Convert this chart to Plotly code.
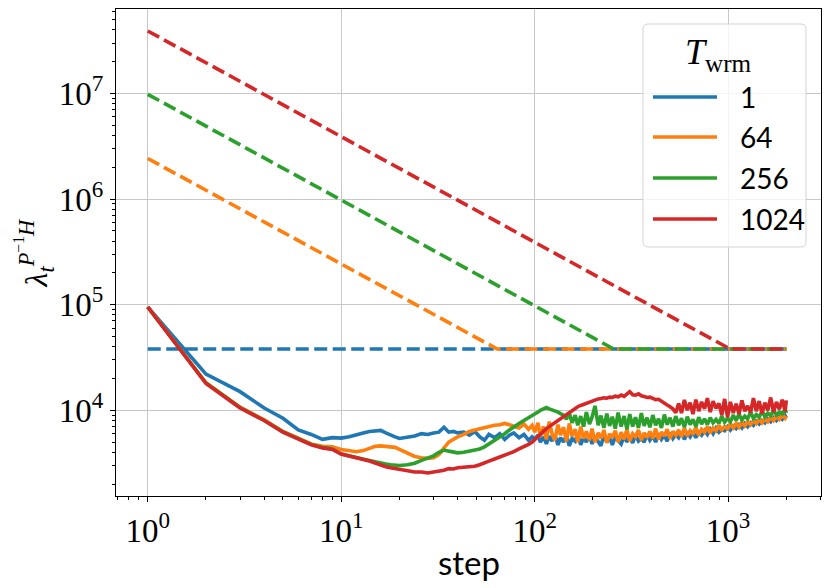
import plotly.graph_objects as go

# ---------------- data ----------------
steps = [1, 2, 3, 4, 5, 6, 7, 8, 9, 10,
         11, 12, 13, 14, 15, 16, 17, 18, 19, 20,
         22, 24, 26, 28, 30, 32, 34, 36, 38, 40,
         43, 46, 49, 52, 55, 58, 62, 66, 70, 74, 78, 83, 88, 93, 97,
         100, 104, 107, 111, 115, 119, 123, 127, 132, 136,
         141, 146, 151, 156, 162, 167, 173, 179, 185, 192,
         198, 205, 213, 220, 228, 236, 244, 252, 261, 270,
         280, 290, 300, 310, 321, 332, 344, 356, 368, 381,
         394, 408, 422, 437, 452, 468, 484, 501, 518, 536,
         555, 574, 594, 615, 636, 658, 681, 705, 729, 755,
         781, 808, 836, 866, 896, 927, 959, 993, 1027, 1063,
         1100, 1138, 1178, 1219, 1262, 1306, 1351, 1398, 1447, 1497,
         1549, 1603, 1659, 1717, 1777, 1839, 1903, 1969, 2000]

# lambda values in thousands
lam_T1_k = [95, 22, 15, 10.5, 8.4, 6.5, 5.9, 5.3, 5.5, 5.45,
            5.6, 5.9, 6.1, 6.3, 6.4, 6.45, 6.1, 5.8, 5.6, 5.4,
            5.6, 5.7, 6.0, 5.9, 6.1, 6.2, 6.9, 6.2, 6.3, 6.1,
            6.2, 5.8, 6.3, 5.6, 5.2, 5.9, 5.5, 6.0, 5.3, 5.8, 6.1, 5.5, 5.9, 5.2, 5.6,
            5.3, 5.8, 5.0, 5.6, 4.8, 5.7, 5.1, 5.9, 4.7, 5.5,
            5.0, 5.8, 4.6, 5.4, 5.1, 6.0, 4.7, 5.5, 5.0, 5.7,
            4.8, 5.6, 5.1, 4.6, 5.8, 5.0, 5.5, 4.7, 5.6, 5.2,
            4.8, 5.7, 5.0, 5.6, 4.9, 5.8, 5.1, 5.4, 5.0, 5.9,
            5.2, 5.7, 5.0, 6.0, 5.3, 5.8, 5.1, 6.1, 5.4, 5.9,
            5.5, 6.2, 5.3, 6.0, 5.6, 6.3, 5.5, 6.1, 5.8, 6.4,
            5.9, 6.6, 6.0, 6.8, 6.2, 6.6, 6.4, 7.0, 6.5, 7.1,
            6.7, 7.3, 6.8, 7.5, 7.0, 7.6, 7.2, 7.9, 7.4, 8.0,
            7.6, 8.3, 7.8, 8.5, 8.0, 8.7, 8.2, 8.9, 8.5]

lam_T64_k = [95, 18.2, 10.7, 8.1, 6.3, 5.4, 4.8, 4.55, 4.5, 4.25,
             4.15, 4.05, 4.15, 4.35, 4.55, 4.6, 4.55, 4.5, 4.45, 4.25,
             3.9, 3.65, 3.55, 3.5, 3.55, 3.8, 4.4, 5.0, 5.3, 5.6,
             5.9, 6.3, 6.5, 6.7, 6.8, 7.0, 7.2, 7.3, 7.5, 7.3, 7.1, 6.8, 7.4, 6.6, 7.2,
             6.2, 7.6, 5.6, 7.0, 5.3, 7.8, 6.0, 5.2, 7.3, 5.8,
             6.9, 5.1, 7.5, 5.7, 6.6, 5.0, 7.0, 5.4, 6.3, 5.2,
             6.7, 5.0, 6.1, 5.4, 6.5, 4.9, 6.0, 5.5, 6.4, 5.0,
             6.2, 5.3, 6.6, 5.1, 6.0, 5.6, 6.5, 5.2, 6.1, 5.5,
             6.3, 5.4, 6.7, 5.3, 6.2, 5.7, 6.6, 5.4, 6.3, 5.8,
             6.5, 5.6, 6.8, 5.7, 6.4, 5.9, 6.9, 5.8, 6.6, 6.2,
             7.0, 6.1, 6.8, 6.4, 7.2, 6.5, 7.0, 6.7, 7.4, 6.8,
             7.5, 6.9, 7.7, 7.1, 7.8, 7.3, 8.0, 7.5, 8.2, 7.6,
             8.3, 7.8, 8.6, 8.0, 8.8, 8.2, 9.0, 8.4, 8.8]

lam_T256_k = [95, 18.1, 10.6, 8.0, 6.25, 5.35, 4.75, 4.45, 4.3, 3.85,
              3.68, 3.55, 3.42, 3.35, 3.25, 3.15, 3.1, 3.05, 3.03, 3.0,
              3.05, 3.15, 3.35, 3.5, 3.7, 4.0, 4.2, 4.1, 4.0, 3.95,
              4.0, 4.1, 4.2, 4.3, 4.5, 4.8, 5.1, 5.6, 6.0, 6.5, 7.0, 7.5, 8.0, 8.5, 8.9,
              9.0, 9.6, 10.0, 10.4, 10.6, 10.3, 10.1, 10.0, 9.6, 9.3,
              9.0, 8.2, 9.4, 7.6, 9.0, 7.2, 8.8, 7.0, 9.6, 7.4,
              8.6, 11.0, 7.2, 8.9, 6.8, 9.3, 7.1, 8.7, 6.7, 9.5,
              7.0, 8.8, 6.6, 9.2, 7.0, 8.6, 6.8, 9.4, 7.1, 8.5,
              6.9, 9.0, 7.2, 8.3, 6.8, 9.1, 7.3, 8.5, 7.0, 8.8,
              7.2, 8.4, 6.9, 8.7, 7.3, 8.2, 7.0, 8.6, 7.4, 8.3,
              7.3, 8.5, 7.6, 8.2, 7.5, 8.8, 7.7, 8.4, 7.8, 9.0,
              8.0, 9.2, 8.1, 8.8, 8.3, 9.6, 8.4, 9.1, 8.6, 9.8,
              8.7, 9.4, 8.9, 10.0, 9.0, 9.6, 9.2, 10.2, 9.4]

lam_T1024_k = [95, 17.9, 10.5, 8.0, 6.2, 5.3, 4.7, 4.4, 4.25, 3.85,
               3.66, 3.55, 3.41, 3.31, 3.16, 3.0, 2.92, 2.85, 2.8, 2.75,
               2.65, 2.6, 2.6, 2.55, 2.6, 2.65, 2.7, 2.8, 2.78, 2.85,
               2.9, 2.9, 2.95, 3.05, 3.15, 3.3, 3.45, 3.6, 3.75, 3.9, 4.05, 4.3, 4.5, 4.75, 5.0,
               5.3, 5.6, 5.9, 6.3, 6.7, 7.0, 7.4, 7.7, 8.1, 8.4,
               8.8, 9.2, 9.6, 10.0, 10.4, 10.8, 11.1, 11.4, 11.7, 12.0,
               12.3, 12.5, 12.8, 12.9, 13.1, 13.0, 13.3, 13.2, 13.6, 13.4,
               13.9, 13.5, 14.2, 15.0, 14.0, 13.9, 14.3, 13.7, 13.5, 13.2,
               13.3, 12.8, 12.6, 12.7, 12.1, 11.8, 11.2, 10.8, 10.3, 9.5,
               11.6, 9.4, 12.5, 10.0, 11.8, 9.2, 12.6, 9.8, 12.0, 10.3,
               13.0, 9.6, 12.2, 10.4, 11.6, 9.0, 12.8, 8.6, 12.0, 9.4,
               11.5, 9.2, 12.4, 9.8, 11.0, 9.5, 13.0, 9.8, 12.2, 9.3,
               11.8, 10.0, 13.2, 9.6, 12.0, 10.2, 12.6, 9.8, 12.4]

warmup_labels = ["1", "64", "256", "1024"]
warmup_steps = [1, 64, 256, 1024]
dash_start_k = [38, 2420, 9800, 39000]   # dashed bound at step 1 (thousands)
dash_floor_k = 38                         # dashed bound after warm-up (thousands)
colors = ["#1f77b4", "#ff7f0e", "#2ca02c", "#d62728"]

x_tick_vals = [1, 10, 100, 1000]
x_tick_text = ["10<sup>0</sup>", "10<sup>1</sup>", "10<sup>2</sup>", "10<sup>3</sup>"]
y_tick_vals = [1e4, 1e5, 1e6, 1e7]
y_tick_text = ["10<sup>4</sup>", "10<sup>5</sup>", "10<sup>6</sup>", "10<sup>7</sup>"]

series = [lam_T1_k, lam_T64_k, lam_T256_k, lam_T1024_k]
for s in series:
    assert len(s) == len(steps), (len(s), len(steps))

# ---------------- figure ----------------
fig = go.Figure()
last_step = steps[-1]
for vals, color, T, start in zip(series, colors, warmup_steps, dash_start_k):
    fig.add_trace(go.Scatter(x=steps, y=[v * 1e3 for v in vals], mode="lines",
                             line=dict(color=color, width=3.6), showlegend=False,
                             hoverinfo="skip"))
    fig.add_trace(go.Scatter(x=[1, T, last_step],
                             y=[start * 1e3, dash_floor_k * 1e3, dash_floor_k * 1e3],
                             mode="lines",
                             line=dict(color=color, width=3.6, dash="13px,5.5px"),
                             showlegend=False, hoverinfo="skip"))

serif = "Liberation Serif"
sans = "Lato"
axis_common = dict(
    type="log", showline=True, mirror=True, linecolor="black", linewidth=1.2,
    ticks="outside", ticklen=5, tickwidth=1, tickcolor="black",
    showgrid=True, gridcolor="#c8c8c8", gridwidth=1, zeroline=False,
    tickfont=dict(family=serif, size=33, color="black"),
    minor=dict(ticks="outside", ticklen=3, tickwidth=0.8, tickcolor="black",
               dtick="D1", showgrid=False),
)
fig.update_xaxes(range=[-0.164, 3.480], tickmode="array", tickvals=x_tick_vals,
                 ticktext=x_tick_text, **axis_common)
fig.update_yaxes(range=[3.188, 7.799], tickmode="array", tickvals=y_tick_vals,
                 ticktext=y_tick_text, **axis_common)

annotations = [
    dict(text="step", x=0.5, y=-0.135, xref="paper", yref="paper",
         showarrow=False, xanchor="center", yanchor="middle",
         font=dict(family=sans, size=33, color="black")),
    dict(text="<i>λ</i><sub><i>t</i></sub><sup><i>P</i><sup>−1</sup><i>H</i></sup>",
         x=-0.115, y=0.5, xref="paper", yref="paper", textangle=-90,
         showarrow=False, xanchor="center", yanchor="middle",
         font=dict(family=serif, size=32, color="black")),
    dict(text="<i>T</i><sub>wrm</sub>", x=0.8545, y=0.907, xref="paper", yref="paper",
         showarrow=False, xanchor="center", yanchor="middle",
         font=dict(family=serif, size=36, color="black")),
]

# manual legend
box_x0, box_x1, box_y0, box_y1 = 0.7475, 0.9787, 0.5113, 0.9692
rx, ry = 0.0075, 0.011
path = (f"M{box_x0+rx},{box_y0} L{box_x1-rx},{box_y0} Q{box_x1},{box_y0} {box_x1},{box_y0+ry} "
        f"L{box_x1},{box_y1-ry} Q{box_x1},{box_y1} {box_x1-rx},{box_y1} "
        f"L{box_x0+rx},{box_y1} Q{box_x0},{box_y1} {box_x0},{box_y1-ry} "
        f"L{box_x0},{box_y0+ry} Q{box_x0},{box_y0} {box_x0+rx},{box_y0} Z")
shapes = [dict(type="path", path=path, xref="paper", yref="paper",
               fillcolor="rgba(255,255,255,0.8)", line=dict(color="#d4d4d4", width=1),
               layer="above")]
legend_rows_y = [0.8193, 0.7372, 0.6530, 0.5688]
for lab, color, ly in zip(warmup_labels, colors, legend_rows_y):
    shapes.append(dict(type="line", xref="paper", yref="paper", x0=0.7617, x1=0.8525,
                       y0=ly, y1=ly, line=dict(color=color, width=3.6), layer="above"))
    annotations.append(dict(text=lab, x=0.8823, y=ly, xref="paper", yref="paper",
                            showarrow=False, xanchor="left", yanchor="middle",
                            font=dict(family=sans, size=28, color="black")))

# page body has an 8px margin, so the plot area is shifted accordingly
fig.update_layout(
    width=831, height=588,
    margin=dict(l=108, r=18, t=1, b=100),
    plot_bgcolor="white", paper_bgcolor="white",
    annotations=annotations, shapes=shapes, showlegend=False,
)

fig.write_html("out.html")
